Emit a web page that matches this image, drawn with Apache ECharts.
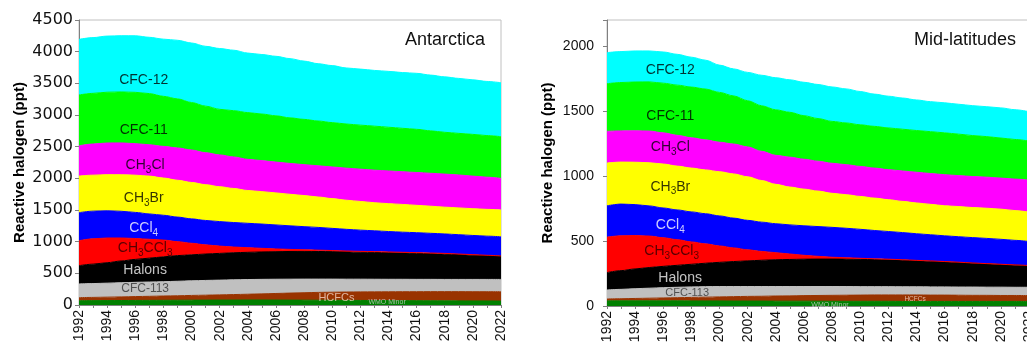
<!DOCTYPE html>
<html>
<head>
<meta charset="utf-8">
<script src="https://cdn.jsdelivr.net/npm/echarts@6/dist/echarts.min.js"></script>
<style>
html, body { margin: 0; padding: 0; background: #fff; }
#chart { width: 1027px; height: 343px; }
</style>
</head>
<body>
<div id="chart"></div>
<script>
var years = ['1992', '1993', '1994', '1995', '1996', '1997', '1998', '1999', '2000', '2001', '2002', '2003', '2004', '2005', '2006', '2007',
             '2008', '2009', '2010', '2011', '2012', '2013', '2014', '2015', '2016', '2017', '2018', '2019', '2020', '2021', '2022'];

// stacking order, bottom to top
var gases = ['WMO Minor', 'HCFCs', 'CFC-113', 'Halons', 'CH3CCl3', 'CCl4', 'CH3Br', 'CH3Cl', 'CFC-11', 'CFC-12'];

// Antarctica (ppt)
var ant_wmo     = [68, 69, 70, 71, 72, 73, 74, 75, 76, 77, 78, 78, 79, 79, 78, 77, 76, 75, 74, 73, 72, 71, 70, 69, 68, 67, 66, 65, 64, 64, 63];
var ant_hcfc    = [48, 51, 54, 57, 61, 64, 68, 71, 75, 78, 82, 87, 91, 97, 104, 111, 118, 124, 128, 132, 135, 137, 139, 141, 142, 144, 145, 146, 146, 146, 147];
var ant_cfc113  = [216, 218, 221, 224, 225, 226, 226, 229, 231, 233, 233, 233, 232, 229, 225, 220, 215, 210, 207, 203, 201, 199, 197, 196, 195, 194, 193, 193, 194, 194, 194];
var ant_halons  = [289, 307, 323, 343, 362, 377, 392, 405, 410, 417, 422, 427, 430, 433, 435, 437, 437, 436, 433, 430, 426, 423, 419, 414, 410, 405, 399, 391, 383, 376, 368];
var ant_ch3ccl3 = [394, 400, 390, 363, 330, 298, 265, 220, 183, 145, 115, 90, 73, 57, 43, 33, 26, 21, 18, 15, 13, 13, 13, 12, 12, 11, 12, 10, 8, 5, 2];
var ant_ccl4    = [443, 437, 430, 422, 412, 400, 392, 388, 385, 385, 387, 387, 385, 383, 379, 372, 365, 359, 350, 342, 335, 329, 322, 318, 315, 311, 307, 305, 303, 302, 303];
var ant_ch3br   = [579, 568, 570, 577, 588, 597, 588, 582, 575, 565, 551, 538, 518, 512, 506, 498, 491, 480, 470, 460, 453, 443, 440, 438, 432, 428, 423, 423, 422, 423, 423];
var ant_ch3cl   = [478, 492, 500, 502, 498, 495, 500, 510, 512, 505, 502, 498, 492, 490, 487, 487, 488, 493, 500, 506, 510, 514, 517, 517, 518, 520, 522, 520, 515, 508, 500];
var ant_cfc11   = [801, 800, 802, 805, 810, 808, 790, 775, 750, 735, 720, 730, 738, 735, 730, 720, 715, 707, 700, 697, 695, 695, 690, 685, 682, 670, 660, 657, 659, 657, 658];
var ant_cfc12   = [879, 880, 886, 888, 893, 889, 903, 925, 940, 945, 960, 955, 940, 940, 940, 935, 920, 905, 900, 885, 885, 880, 882, 880, 884, 880, 875, 868, 861, 855, 852];

// Mid-latitudes (ppt)
var mid_wmo     = [40, 40, 40, 40, 40, 40, 39, 39, 39, 38, 38, 38, 37, 37, 37, 37, 36, 36, 36, 36, 36, 35, 35, 35, 35, 35, 35, 35, 35, 35, 35];
var mid_hcfc    = [14, 16, 18, 20, 22, 24, 27, 29, 31, 34, 36, 37, 40, 41, 43, 44, 46, 47, 48, 49, 49, 50, 50, 49, 49, 48, 47, 47, 46, 46, 45];
var mid_cfc113  = [69, 72, 75, 77, 79, 80, 81, 81, 80, 78, 76, 75, 73, 72, 70, 69, 68, 67, 65, 64, 64, 63, 63, 63, 63, 63, 64, 63, 64, 63, 64];
var mid_halons  = [134, 144, 152, 159, 164, 169, 174, 180, 186, 192, 197, 202, 206, 208, 210, 211, 211, 210, 210, 208, 206, 204, 200, 197, 192, 188, 183, 179, 174, 170, 165];
var mid_ch3ccl3 = [273, 268, 257, 242, 220, 197, 172, 149, 126, 105, 85, 68, 54, 42, 30, 21, 14, 11, 8, 6, 5, 4, 3, 3, 3, 3, 2, 2, 2, 2, 2];
var mid_ccl4    = [241, 244, 238, 232, 229, 229, 231, 232, 231, 229, 227, 225, 223, 224, 227, 229, 230, 227, 223, 218, 213, 209, 205, 201, 198, 196, 195, 194, 192, 189, 185];
var mid_ch3br   = [329, 323, 326, 332, 338, 337, 337, 337, 340, 340, 335, 320, 303, 291, 282, 273, 262, 258, 253, 249, 245, 240, 237, 234, 231, 232, 231, 232, 232, 229, 226];
var mid_ch3cl   = [244, 240, 242, 244, 240, 237, 233, 231, 227, 230, 230, 225, 223, 230, 230, 230, 231, 231, 231, 231, 231, 234, 236, 237, 239, 238, 239, 239, 239, 242, 246];
var mid_cfc11   = [366, 372, 375, 378, 382, 386, 390, 391, 383, 370, 355, 350, 350, 345, 335, 328, 322, 321, 320, 321, 321, 321, 321, 322, 322, 319, 315, 312, 308, 305, 301];
var mid_cfc12   = [239, 238, 239, 238, 240, 237, 230, 222, 210, 208, 218, 235, 247, 250, 257, 262, 265, 262, 256, 248, 244, 240, 235, 231, 231, 230, 230, 230, 232, 229, 226];

var antData = [ant_wmo, ant_hcfc, ant_cfc113, ant_halons, ant_ch3ccl3, ant_ccl4, ant_ch3br, ant_ch3cl, ant_cfc11, ant_cfc12];
var midData = [mid_wmo, mid_hcfc, mid_cfc113, mid_halons, mid_ch3ccl3, mid_ccl4, mid_ch3br, mid_ch3cl, mid_cfc11, mid_cfc12];

var colors = ['#008000', '#993300', '#c0c0c0', '#000000', '#ff0000', '#0000ff', '#ffff00', '#ff00ff', '#00ff00', '#00ffff'];

var FONT = '"Liberation Sans", Arial, sans-serif';

// name inside the bands: [gas, year, ppt, font size, colour]
var antLabels = [
    ['CFC-12', 1996.6, 3553, 14, '#000'],
    ['CFC-11', 1996.6, 2763, 14, '#000'],
    ['CH3Cl', 1996.7, 2210, 14, '#000'],
    ['CH3Br', 1996.6, 1690, 14, '#000'],
    ['CCl4', 1996.6, 1216, 14, '#fff'],
    ['CH3CCl3', 1996.7, 900, 14, '#300000'],
    ['Halons', 1996.7, 553, 14, '#f2f2f2'],
    ['CFC-113', 1996.7, 260, 12, '#333'],
    ['HCFCs', 2010.3, 115, 11, '#f3d6c6'],
    ['WMO Minor', 2013.9, 47, 7, '#cfcfcf']
];
var midLabels = [
    ['CFC-12', 1996.5, 1816, 14, '#000'],
    ['CFC-11', 1996.5, 1460, 14, '#000'],
    ['CH3Cl', 1996.5, 1219, 14, '#000'],
    ['CH3Br', 1996.5, 918, 14, '#000'],
    ['CCl4', 1996.5, 625, 14, '#fff'],
    ['CH3CCl3', 1996.6, 424, 14, '#300000'],
    ['Halons', 1997.2, 216, 14, '#f2f2f2'],
    ['CFC-113', 1997.7, 100, 11, '#333'],
    ['HCFCs', 2013.9, 54, 6.5, '#f3d6c6'],
    ['WMO Minor', 2007.85, 8, 7, '#cfcfcf']
];

var richName = {
    'CH3Cl': '{a|CH}{s|3}{a|Cl}',
    'CH3Br': '{a|CH}{s|3}{a|Br}',
    'CCl4': '{a|CCl}{s|4}',
    'CH3CCl3': '{a|CH}{s|3}{a|CCl}{s|3}'
};

function areaSeries(idx, data, stack) {
    return data.map(function (vals, i) {
        return {
            name: gases[i],
            type: 'line',
            xAxisIndex: idx,
            yAxisIndex: idx,
            stack: stack,
            symbol: 'none',
            smooth: 0.3,
            smoothMonotone: 'x',
            silent: true,
            lineStyle: { width: 1, color: colors[i] },
            areaStyle: { color: colors[i], opacity: 1 },
            data: vals
        };
    });
}

// labels sit on a hidden value x-axis (index 2 / 3) so they can go between years
function labelSeries(idx, item) {
    var fs = item[3];
    return {
        type: 'scatter',
        xAxisIndex: idx + 2,
        yAxisIndex: idx,
        symbolSize: 0,
        silent: true,
        z: 5,
        data: [[item[1], item[2]]],
        label: {
            show: true,
            position: 'inside',
            formatter: richName[item[0]] || ('{a|' + item[0] + '}'),
            rich: {
                a: { fontSize: fs, lineHeight: fs + 6, color: item[4], fontFamily: FONT },
                s: { fontSize: Math.round(fs * 0.72), lineHeight: Math.round(fs * 0.72), color: item[4], fontFamily: FONT, verticalAlign: 'bottom' }
            }
        }
    };
}

function xAxisFor(idx) {
    return {
        type: 'category', gridIndex: idx, data: years, boundaryGap: false,
        axisLine: { show: true, onZero: false, lineStyle: { color: '#808080', width: 1 } },
        axisTick: { show: true, interval: 0, length: 3, lineStyle: { color: '#808080' } },
        splitLine: { show: false },
        axisLabel: { interval: 1, rotate: 90, fontSize: 14, color: '#111', margin: 5, fontFamily: FONT }
    };
}

function hiddenX(idx) {
    return { type: 'value', gridIndex: idx, min: 1992, max: 2022, show: false, splitLine: { show: false } };
}

function yAxisFor(idx, max, labelFont, labelSize, margin) {
    return {
        type: 'value', gridIndex: idx, min: 0, max: max, interval: 500,
        name: 'Reactive halogen (ppt)',
        nameLocation: 'middle',
        nameGap: 52,
        nameTextStyle: { fontSize: 15, fontWeight: 'bold', color: '#000', fontFamily: FONT },
        axisLine: { show: true, lineStyle: { color: '#808080', width: 1 } },
        axisTick: { show: true, length: 4, lineStyle: { color: '#808080' } },
        splitLine: { show: false },
        axisLabel: {
            fontSize: labelSize, color: '#111', margin: margin, fontFamily: labelFont,
            formatter: function (v) { return v % 500 === 0 ? String(v) : ''; }
        }
    };
}

var chart = echarts.init(document.getElementById('chart'));
var series = areaSeries(0, antData, 'ant').concat(areaSeries(1, midData, 'mid'));
antLabels.forEach(function (l) { series.push(labelSeries(0, l)); });
midLabels.forEach(function (l) { series.push(labelSeries(1, l)); });

chart.setOption({
    animation: false,
    backgroundColor: '#fff',
    title: [
        { text: 'Antarctica', right: 542, top: 31, padding: 0,
          textStyle: { fontSize: 18, fontWeight: 'normal', color: '#111', fontFamily: FONT } },
        { text: 'Mid-latitudes', right: 11, top: 31, padding: 0,
          textStyle: { fontSize: 18, fontWeight: 'normal', color: '#111', fontFamily: FONT } }
    ],
    grid: [
        { left: 79, top: 20, width: 422, height: 285, containLabel: false, outerBoundsMode: 'none',
          show: true, borderColor: '#c0c0c0', borderWidth: 1, backgroundColor: 'transparent' },
        { left: 607, top: 20, width: 422, height: 286, containLabel: false, outerBoundsMode: 'none',
          show: true, borderColor: '#c0c0c0', borderWidth: 1, backgroundColor: 'transparent' }
    ],
    xAxis: [xAxisFor(0), xAxisFor(1), hiddenX(0), hiddenX(1)],
    yAxis: [
        yAxisFor(0, 4500, '"DejaVu Sans", sans-serif', 16, 6),
        yAxisFor(1, 2200, FONT, 14, 13)
    ],
    series: series
});
</script>
</body>
</html>
